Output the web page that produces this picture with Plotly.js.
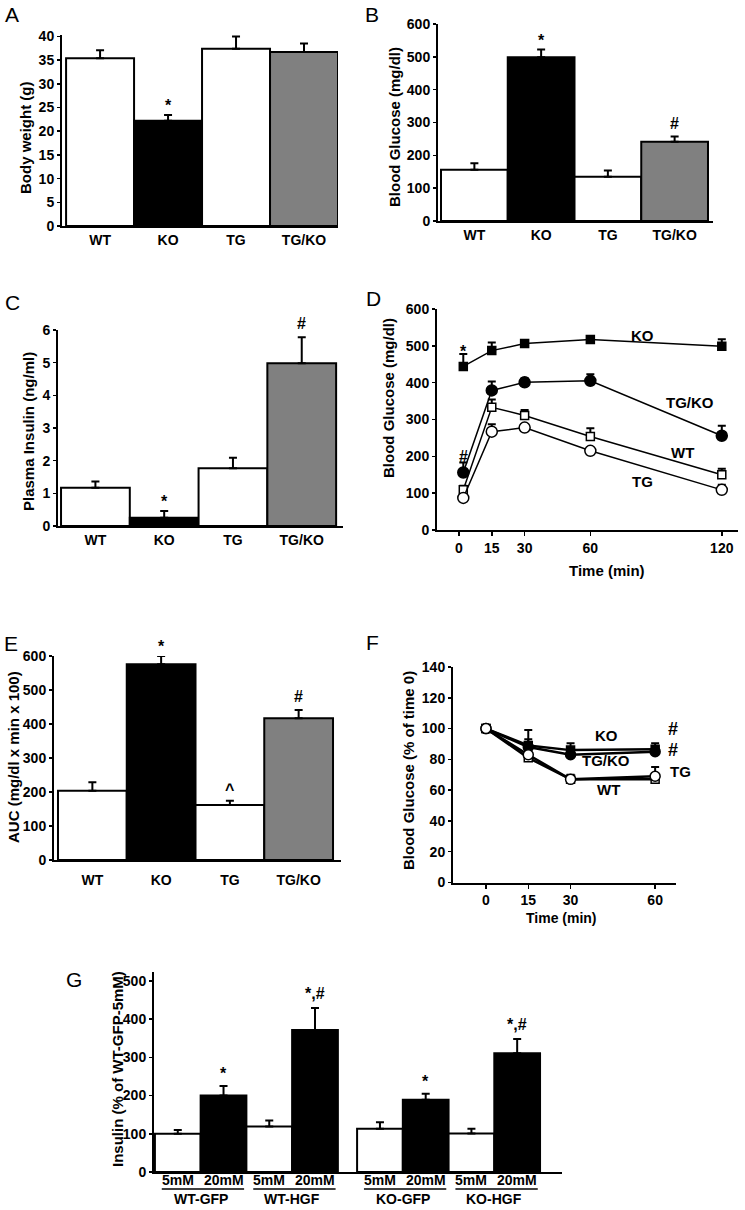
<!DOCTYPE html>
<html><head><meta charset="utf-8">
<script src="https://cdn.plot.ly/plotly-3.0.1.min.js"></script>
<style>html,body{margin:0;padding:0;background:#fff;}#chart{width:745px;height:1210px;}</style>
</head><body><div id="chart"></div>
<script>
// ================= DATA =================
const groups = ["WT", "KO", "TG", "TG/KO"];

// A: body weight (g)
const bodyWeight    = [35.4, 22.2, 37.4, 36.7];
const bodyWeightErr = [1.7, 1.2, 2.6, 1.8];
const bodyWeightSig = ["", "*", "", ""];

// B: blood glucose (mg/dl)
const fedGlucose    = [156, 499, 135, 241];
const fedGlucoseErr = [20, 23, 19, 16];
const fedGlucoseSig = ["", "*", "", "#"];

// C: plasma insulin (ng/ml)
const plasmaInsulin    = [1.17, 0.25, 1.77, 4.98];
const plasmaInsulinErr = [0.19, 0.21, 0.32, 0.80];
const plasmaInsulinSig = ["", "*", "", "#"];

// D: glucose tolerance test (mg/dl)
const gttTicks   = [0, 15, 30, 60, 120];
const gttTime    = [2, 15, 30, 60, 120];
const gttKO      = [444, 487, 506, 517, 499];
const gttKOErr   = [34, 22, 8, 8, 19];
const gttTGKO    = [156, 379, 401, 405, 256];
const gttTGKOErr = [27, 24, 11, 18, 27];
const gttWT      = [109, 333, 311, 254, 150];
const gttWTErr   = [11, 21, 15, 22, 16];
const gttTG      = [87, 267, 278, 215, 109];
const gttTGErr   = [3, 20, 5, 5, 14];

// E: AUC (mg/dl x min x 100)
const auc    = [204, 576, 162, 417];
const aucErr = [25, 24, 12, 24];
const aucSig = ["", "*", "^", "#"];

// F: insulin tolerance test (% of time 0)
const ittTime    = [0, 15, 30, 60];
const ittKO      = [100, 89, 86, 86.5];
const ittKOErr   = [0, 10, 4.5, 4];
const ittTGKO    = [100, 88, 83, 85];
const ittTGKOErr = [0, 5, 3, 3];
const ittWT      = [100, 81, 67, 67];
const ittWTErr   = [0, 1.5, 3, 2];
const ittTG      = [100, 83, 67, 69];
const ittTGErr   = [0, 1, 2, 6];

// G: islet insulin secretion (% of WT-GFP-5mM)
const isletGroups     = ["WT-GFP", "WT-HGF", "KO-GFP", "KO-HGF"];
const glucoseConc     = ["5mM", "20mM"];
const isletInsulin    = [100, 200, 119, 372, 113, 189, 101, 311];
const isletInsulinErr = [10, 25, 16, 57, 17, 16, 12, 37];
const isletSig        = ["", "*", "", "*,#", "", "*", "", "*,#"];

// ================= STYLE / LAYOUT =================
const W = 745, H = 1210;
const fx = p => p / W, fy = p => 1 - p / H;
const FONT = "Liberation Sans, Arial, Helvetica, sans-serif";
const BOLD = {family: FONT, size: 14, color: '#000', weight: 'bold'};
const TITLE = {family: FONT, size: 15, color: '#000', weight: 'bold'};
const SIG = {family: FONT, size: 16, color: '#000', weight: 'bold'};
const groupColors = ['#ffffff', '#000000', '#ffffff', '#808080'];
const concColors = ['#ffffff', '#000000'];
const ax = n => (n === 1 ? 'x' : 'x' + n);
const ay = n => (n === 1 ? 'y' : 'y' + n);

function xAxis(n, dom, range, extra) {
  return Object.assign({domain: [fx(dom[0]), fx(dom[1])], range: range, anchor: ay(n),
    showline: true, linecolor: '#000', linewidth: 2, showgrid: false, zeroline: false,
    ticks: '', tickfont: BOLD, fixedrange: true}, extra || {});
}
function yAxis(n, dom, range, dtick, extra) {
  return Object.assign({domain: [fy(dom[0]), fy(dom[1])], range: range, anchor: ax(n),
    showline: true, linecolor: '#000', linewidth: 2, showgrid: false, zeroline: false,
    ticks: 'outside', ticklen: 3, tickwidth: 1.5, tickcolor: '#000',
    tickmode: 'linear', tick0: 0, dtick: dtick, tickfont: BOLD, fixedrange: true}, extra || {});
}
function upErr(errs, w) {
  return {type: 'data', array: errs, arrayminus: errs.map(() => 0), symmetric: false,
    color: '#000', thickness: 2, width: w};
}
function barTrace(n, xs, vals, errs, colors) {
  return {type: 'bar', x: xs, y: vals, width: 1, xaxis: ax(n), yaxis: ay(n),
    marker: {color: colors, line: {color: '#000', width: 2}},
    error_y: upErr(errs, 4), hoverinfo: 'skip'};
}
function lineTrace(n, xs, ys, errs, symbol, fill, size, lw) {
  return {type: 'scatter', mode: 'lines+markers', x: xs, y: ys, xaxis: ax(n), yaxis: ay(n),
    line: {color: '#000', width: lw},
    marker: {symbol: symbol, size: size, color: fill, line: {color: '#000', width: 1.5}},
    error_y: upErr(errs, 4), cliponaxis: false, hoverinfo: 'skip'};
}

const idx = groups.map((g, i) => i);
// G positions: two bars per group, with a gap between WT and KO halves
const gGap = 0.42;
const gPos = isletInsulin.map((v, i) => i + (i >= 4 ? gGap : 0));
const gTickText = isletInsulin.map((v, i) => glucoseConc[i % 2]);
const gColors = isletInsulin.map((v, i) => concColors[i % 2]);

const traces = [
  barTrace(1, idx, bodyWeight, bodyWeightErr, groupColors),
  barTrace(2, idx, fedGlucose, fedGlucoseErr, groupColors),
  barTrace(3, idx, plasmaInsulin, plasmaInsulinErr, groupColors),
  lineTrace(4, gttTime, gttKO, gttKOErr, 'square', '#000', 8, 1.5),
  lineTrace(4, gttTime, gttTGKO, gttTGKOErr, 'circle', '#000', 11, 1.5),
  lineTrace(4, gttTime, gttWT, gttWTErr, 'square', '#fff', 8, 1.5),
  lineTrace(4, gttTime, gttTG, gttTGErr, 'circle', '#fff', 11, 1.5),
  barTrace(5, idx, auc, aucErr, groupColors),
  lineTrace(6, ittTime, ittKO, ittKOErr, 'square', '#000', 8, 2.5),
  lineTrace(6, ittTime, ittTGKO, ittTGKOErr, 'circle', '#000', 10, 2.5),
  lineTrace(6, ittTime, ittWT, ittWTErr, 'square', '#fff', 8, 2.5),
  lineTrace(6, ittTime, ittTG, ittTGErr, 'circle', '#fff', 10, 2.5),
  barTrace(7, gPos, isletInsulin, isletInsulinErr, gColors)
];

const catX = {tickmode: 'array', tickvals: idx, ticktext: groups};
const layout = {
  width: W, height: H, margin: {l: 0, r: 0, t: 0, b: 0},
  paper_bgcolor: '#fff', plot_bgcolor: 'rgba(0,0,0,0)', showlegend: false,
  font: {family: FONT, color: '#000'},
  xaxis:  xAxis(1, [62, 338], [-0.56, 3.5], catX),
  yaxis:  yAxis(1, [226, 35], [0, 40.3], 5),
  xaxis2: xAxis(2, [438, 713], [-0.545, 3.575], catX),
  yaxis2: yAxis(2, [221, 24], [0, 600], 100),
  xaxis3: xAxis(3, [58, 343], [-0.544, 3.6], catX),
  yaxis3: yAxis(3, [526, 330], [0, 6], 1),
  xaxis4: xAxis(4, [437, 738], [-10, 127.4], {tickmode: 'array', tickvals: gttTicks, ticks: 'outside', ticklen: 4, tickwidth: 1.5, tickcolor: '#000'}),
  yaxis4: yAxis(4, [530, 309], [0, 600], 100),
  xaxis5: xAxis(5, [54, 341], [-0.558, 3.616], Object.assign({ticklabelstandoff: 6}, catX)),
  yaxis5: yAxis(5, [860, 656], [0, 600], 100),
  xaxis6: xAxis(6, [453, 676], [-11.7, 67.4], {tickmode: 'array', tickvals: ittTime, ticks: 'outside', ticklen: 4, tickwidth: 1.5, tickcolor: '#000'}),
  yaxis6: yAxis(6, [882.5, 667], [0, 140], 20),
  xaxis7: xAxis(7, [154, 562], [-0.52, 8.4], {showticklabels: false}),
  yaxis7: yAxis(7, [1172, 972], [0, 523.5], 100),
  annotations: [], shapes: []
};

const A = layout.annotations;
function txt(text, x, y, opt) {
  A.push(Object.assign({text: text, xref: 'paper', yref: 'paper', x: fx(x), y: fy(y),
    xanchor: 'center', yanchor: 'middle', showarrow: false, font: BOLD}, opt || {}));
}
// panel letters
const LETTER = {family: FONT, size: 21, color: '#000'};
[['A', 12, 15], ['B', 372, 15], ['C', 12, 302], ['D', 373, 298],
 ['E', 11, 643], ['F', 372, 642], ['G', 74, 979]].forEach(l => txt(l[0], l[1], l[2], {font: LETTER}));
// y titles
[['Body weight (g)', 25, 138], ['Blood Glucose (mg/dl)', 395, 127], ['Plasma Insulin (ng/ml)', 28, 432],
 ['Blood Glucose (mg/dl)', 388, 398], ['AUC (mg/dl x min x 100)', 13, 757],
 ['Blood Glucose (% of time 0)', 408, 771], ['Insulin (% of WT-GFP-5mM)', 117, 1069]]
 .forEach(t => txt(t[0], t[1], t[2], {textangle: -90, font: TITLE}));
// x titles
txt('Time (min)', 607, 570, {font: TITLE});
txt('Time (min)', 561, 918, {font: BOLD});
// series labels D
[['KO', 642, 335], ['TG/KO', 690, 403], ['WT', 682, 452], ['TG', 642, 482]].forEach(t => txt(t[0], t[1], t[2], {font: TITLE}));
// series labels F
[['KO', 606, 736], ['TG/KO', 606, 760], ['WT', 608, 789], ['TG', 680, 771]].forEach(t => txt(t[0], t[1], t[2], {font: TITLE}));
const BIG = {family: FONT, size: 18, color: '#000', weight: 'bold'};
txt('#', 673, 729, {font: BIG});
txt('#', 673, 750, {font: BIG});

// significance marks anchored on error-bar tops
const sigShift = {'*': -1, '#': 3, '^': 1, '*,#': 1};
function sig(n, xs, vals, errs, marks, extra) {
  marks.forEach((m, i) => {
    if (!m) return;
    A.push({text: m, xref: ax(n), yref: ay(n), x: xs[i], y: vals[i] + errs[i],
      xanchor: 'center', yanchor: 'bottom', yshift: sigShift[m] + (extra || 0),
      showarrow: false, font: SIG});
  });
}
sig(1, idx, bodyWeight, bodyWeightErr, bodyWeightSig);
sig(2, idx, fedGlucose, fedGlucoseErr, fedGlucoseSig);
sig(3, idx, plasmaInsulin, plasmaInsulinErr, plasmaInsulinSig);
sig(5, idx, auc, aucErr, aucSig);
sig(7, gPos, isletInsulin, isletInsulinErr, isletSig, 3);
// D: markers at time 0
sig(4, gttTime, gttKO, gttKOErr, ['*', '', '', '', ''], -7);
sig(4, gttTime, gttTGKO, gttTGKOErr, ['#', '', '', '', ''], -7);

// G: concentration labels, group labels with underlines
gPos.forEach((p, i) => {
  A.push({text: gTickText[i], xref: 'x7', yref: 'paper', x: p, y: fy(1180),
    xanchor: 'center', yanchor: 'middle', showarrow: false, font: BOLD});
});
isletGroups.forEach((g, k) => {
  const x0 = gPos[2 * k], x1 = gPos[2 * k + 1];
  A.push({text: g, xref: 'x7', yref: 'paper', x: (x0 + x1) / 2, y: fy(1199),
    xanchor: 'center', yanchor: 'middle', showarrow: false, font: BOLD});
  layout.shapes.push({type: 'line', xref: 'x7', yref: 'paper', x0: x0 - 0.35, x1: x1 + 0.45,
    y0: fy(1189), y1: fy(1189), line: {color: '#000', width: 1.5}});
});

Plotly.newPlot('chart', traces, layout, {staticPlot: true, displayModeBar: false});
</script>
</body></html>
